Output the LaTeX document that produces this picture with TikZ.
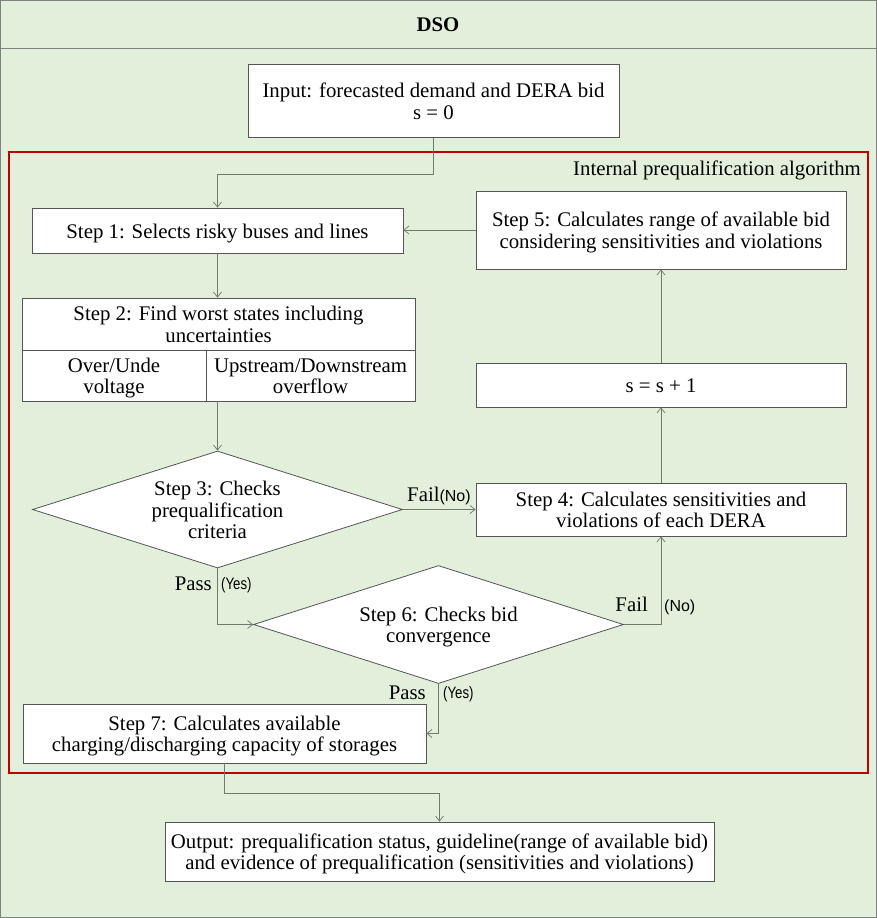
\documentclass[tikz,border=0pt]{standalone}
\usepackage{fontspec}
\setmainfont{Liberation Serif}
\newfontfamily\labsans{Liberation Sans}
\newfontfamily\labsansn{Liberation Sans}[FakeStretch=0.8]
\usetikzlibrary{arrows.meta,shapes.geometric}
\definecolor{bggreen}{HTML}{E2EFDA}
\definecolor{framered}{HTML}{C00000}
\definecolor{linegray}{HTML}{6E7A6E}
\definecolor{boxgray}{HTML}{555555}
\newcommand\topstr{\rule{0pt}{19.5pt}}
\newcommand\botstr{\rule[-4.5pt]{0pt}{4.5pt}}
\begin{document}
\begin{tikzpicture}[x=1pt,y=-1pt,
  txt/.style={font=\fontsize{20.8}{21.5}\selectfont},
  box/.style={txt, draw=boxgray, line width=0.8pt, fill=white, align=center, inner sep=0pt},
  dia/.style={txt, diamond, draw=boxgray, line width=0.8pt, fill=white, align=center, inner sep=0pt, aspect=3.2},
  lab/.style={txt, inner sep=0pt},
  sml/.style={font=\labsans\fontsize{16}{18}\selectfont, inner sep=0pt},
  smln/.style={font=\labsansn\fontsize{16.5}{18}\selectfont, inner sep=0pt},
  arr/.style={draw=linegray, line width=0.7pt, -{Straight Barb[length=5pt,width=8pt]}}
]
\useasboundingbox (0,0) rectangle (877,918);
\fill[bggreen] (0,0) rectangle (877,918);
\draw[gray, line width=1pt] (0.5,0.5) rectangle (876.5,917.5);
\draw[gray, line width=1pt] (0,48.5) -- (877,48.5);
\node[txt, font=\fontsize{20.8}{21.5}\selectfont\bfseries] (dso) at (438,25) {DSO};

\draw[framered, line width=2.5pt] (9,152) rectangle (868,773);
\node[lab, anchor=base east] (intlab) at (861,175) {Internal prequalification algorithm};

\node[box, minimum width=371pt, minimum height=73pt] (input) at (433.5,101) {\topstr Input: forecasted demand and DERA bid\\s = 0\botstr};
\node[box, minimum width=371pt, minimum height=45pt] (step1) at (217.5,230.5) {\topstr Step 1: Selects risky buses and lines\botstr};
\node[box, minimum width=370pt, minimum height=78pt] (step5) at (661,230) {\topstr Step 5: Calculates range of available bid\\considering sensitivities and violations\botstr};
\node[box, minimum width=393pt, minimum height=52pt] (step2) at (218.5,324) {\topstr Step 2: Find worst states including\\uncertainties\botstr};
\node[box, minimum width=184pt, minimum height=51pt] (s2a) at (114,375.5) {\topstr Over/Unde\\voltage\botstr};
\node[box, minimum width=209pt, minimum height=51pt] (s2b) at (310.5,375.5) {\topstr Upstream/Downstream\\overflow\botstr};
\node[dia, minimum width=370pt, minimum height=117pt] (step3) at (217.5,509.5) {\topstr Step 3: Checks\\prequalification\\criteria\botstr};
\node[box, minimum width=370pt, minimum height=53pt] (step4) at (661,509.5) {\topstr Step 4: Calculates sensitivities and\\violations of each DERA\botstr};
\node[box, minimum width=370pt, minimum height=44pt] (sbox) at (661,385) {\topstr s = s + 1\botstr};
\node[dia, minimum width=370pt, minimum height=118pt] (step6) at (438.5,624.5) {\topstr Step 6: Checks bid\\convergence\botstr};
\node[box, minimum width=403pt, minimum height=59pt] (step7) at (224.5,733.5) {\topstr Step 7: Calculates available\\charging/discharging capacity of storages\botstr};
\node[box, minimum width=549pt, minimum height=59pt] (output) at (439.5,851.5) {\topstr Output: prequalification status, guideline(range of available bid)\\and evidence of prequalification (sensitivities and violations)\botstr};

\node[lab, anchor=base west] (fail1) at (407,501) {Fail{\labsans\fontsize{16}{18}\selectfont(No)}};
\node[lab, anchor=base east] (pass1) at (212,590) {Pass};
\node[smln, anchor=base west] (yes1) at (221,589) {(Yes)};
\node[lab, anchor=base east] (fail2) at (648,611) {Fail};
\node[sml, anchor=base west] (no2) at (664,611) {(No)};
\node[lab, anchor=base east] (pass2) at (426,699) {Pass};
\node[smln, anchor=base west] (yes2) at (443,698) {(Yes)};

\draw[arr] (input.south) -- ++(0,36) -| (step1.north);
\draw[arr] (step5.west) -- (step5.west -| step1.east);
\draw[arr] (step1.south) -- (step2.north -| step1.south);
\draw[arr] (step1.south |- s2b.south) -- (step3.north);
\draw[arr] (step3.east) -- (step3.east -| step4.west);
\draw[arr] (step3.south) |- (step6.west);
\draw[arr] (step6.east) -| (step4.south);
\draw[arr] (step4.north) -- (sbox.south);
\draw[arr] (sbox.north) -- (step5.south);
\draw[arr] (step6.south) |- (step7.east);
\draw[arr] (step7.south) -- ++(0,30) -| (output.north);
\end{tikzpicture}
\end{document}
